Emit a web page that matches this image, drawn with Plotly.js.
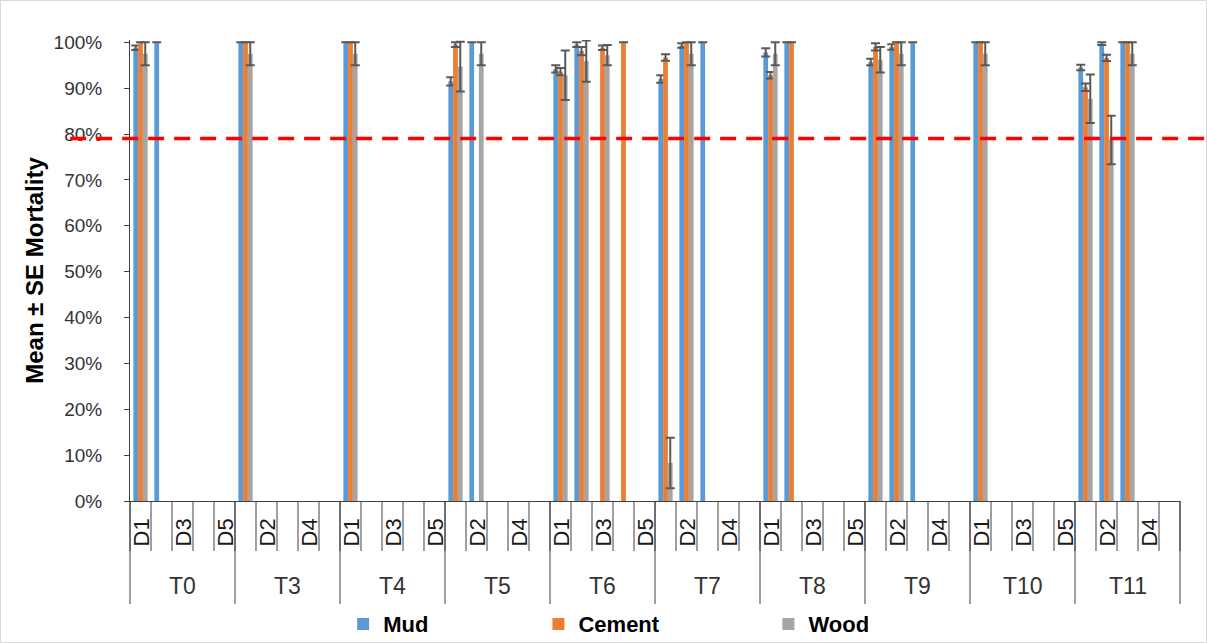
<!DOCTYPE html>
<html>
<head>
<meta charset="utf-8">
<script src="https://cdn.plot.ly/plotly-3.0.1.min.js"></script>
<style>
  html, body { margin: 0; padding: 0; background: #fff; }
  #chart { width: 1205px; height: 641px; border: 1px solid #d9d9d9; }
</style>
</head>
<body>
<div id="chart"></div>
<script>
// ---- Data (percent mortality, mean and standard error) ----
const groups = ['T0', 'T3', 'T4', 'T5', 'T6', 'T7', 'T8', 'T9', 'T10', 'T11'];
const doses = ['D1', 'D2', 'D3', 'D4', 'D5'];

// one row per group, one column per dose (D1..D5); null = no bar
const mudMean = [
  [98.8, 100, null, null, null],
  [100, null, null, null, null],
  [100, null, null, null, null],
  [91.5, 100, null, null, null],
  [94.2, 99.5, null, null, null],
  [92.0, 99.3, 100, null, null],
  [97.8, 100, null, null, null],
  [95.7, 99.0, 100, null, null],
  [100, null, null, null, null],
  [94.5, 99.7, 100, null, null]
];
const mudSE = [
  [0.5, 0, null, null, null],
  [0, null, null, null, null],
  [0, null, null, null, null],
  [0.9, 0, null, null, null],
  [0.8, 0.5, null, null, null],
  [0.8, 0.5, 0, null, null],
  [0.9, 0, null, null, null],
  [0.7, 0.6, 0, null, null],
  [0, null, null, null, null],
  [0.6, 0.3, 0, null, null]
];
const cementMean = [
  [100, null, null, null, null],
  [100, null, null, null, null],
  [100, null, null, null, null],
  [99.5, null, null, null, null],
  [93.6, 98.1, 98.8, 100, null],
  [96.7, 100, null, null, null],
  [92.8, 100, null, null, null],
  [99.0, 100, null, null, null],
  [100, null, null, null, null],
  [90.2, 96.6, 100, null, null]
];
const cementSE = [
  [0, null, null, null, null],
  [0, null, null, null, null],
  [0, null, null, null, null],
  [0.5, null, null, null, null],
  [0.8, 0.9, 0.5, 0, null],
  [0.7, 0, null, null, null],
  [0.7, 0, null, null, null],
  [0.8, 0, null, null, null],
  [0, null, null, null, null],
  [0.8, 0.7, 0, null, null]
];
const woodMean = [
  [97.5, null, null, null, null],
  [97.5, null, null, null, null],
  [97.5, null, null, null, null],
  [94.7, 97.5, null, null, null],
  [92.8, 95.9, 97.2, null, null],
  [8.3, 97.5, null, null, null],
  [97.5, null, null, null, null],
  [96.2, 97.5, null, null, null],
  [97.5, null, null, null, null],
  [87.7, 78.7, 97.5, null, null]
];
const woodSE = [
  [2.5, null, null, null, null],
  [2.5, null, null, null, null],
  [2.5, null, null, null, null],
  [5.4, 2.5, null, null, null],
  [5.4, 4.5, 2.2, null, null],
  [5.5, 2.5, null, null, null],
  [2.5, null, null, null, null],
  [2.8, 2.5, null, null, null],
  [2.5, null, null, null, null],
  [5.3, 5.3, 2.5, null, null]
];
const threshold = 79;      // reference line (%)
const yRange = [0, 100.5]; // value axis range (%)

// ---- Build chart ----
const cats = [];
const catDose = [];
groups.forEach(g => doses.forEach(d => { cats.push(g + ' ' + d); catDose.push(d); }));
const flat = a => a.reduce((acc, r) => acc.concat(r), []);
const nCats = cats.length;

const FONT = 'Liberation Sans, Arial, sans-serif';
const errStyle = { type: 'data', color: '#595959', thickness: 2, width: 4.5, visible: true };

const series = [
  { name: 'Mud', mean: mudMean, se: mudSE, color: '#5B9BD5', legend: 'legend' },
  { name: 'Cement', mean: cementMean, se: cementSE, color: '#ED7D31', legend: 'legend2' },
  { name: 'Wood', mean: woodMean, se: woodSE, color: '#A5A5A5', legend: 'legend3' }
];

const traces = series.map(s => ({
  type: 'bar',
  name: s.name,
  x: cats,
  y: flat(s.mean),
  marker: { color: s.color, line: { width: 0 } },
  error_y: Object.assign({ array: flat(s.se) }, errStyle),
  legend: s.legend,
  showlegend: true,
  hoverinfo: 'none'
}));

const axisColor = '#404040';
const shapes = [];
// category boundary ticks under the axis
for (let k = 0; k <= nCats; k++) {
  shapes.push({
    type: 'line', xref: 'paper', yref: 'paper', ysizemode: 'pixel', yanchor: 0,
    x0: k / nCats, x1: k / nCats, y0: 0, y1: -50,
    line: { color: axisColor, width: 1 }
  });
}
// group dividers
for (let g = 0; g <= groups.length; g++) {
  const xp = (g * doses.length) / nCats;
  shapes.push({
    type: 'line', xref: 'paper', yref: 'paper', ysizemode: 'pixel', yanchor: 0,
    x0: xp, x1: xp, y0: 0, y1: -103,
    line: { color: axisColor, width: 1 }
  });
}
// threshold line (position on the value axis, expressed in the axis domain)
const thrFrac = (threshold - yRange[0]) / (yRange[1] - yRange[0]);
shapes.push({
  type: 'line', xref: 'paper', yref: 'y domain', layer: 'above',
  x0: -0.057, x1: 1.03, y0: thrFrac, y1: thrFrac,
  line: { color: '#FF0000', width: 3.5, dash: '16px,10px' }
});

const annotations = [];
// dose labels (every other category, as in the reference)
cats.forEach((c, i) => {
  if (i % 2 === 0) {
    annotations.push({
      x: c, xref: 'x', y: 0, yref: 'paper', yshift: -32,
      text: catDose[i], textangle: -90, showarrow: false,
      xanchor: 'center', yanchor: 'middle',
      font: { family: FONT, size: 22, color: '#1a1a1a' }
    });
  }
});
// group labels
groups.forEach((g, gi) => {
  annotations.push({
    x: cats[gi * doses.length + Math.floor(doses.length / 2)], xref: 'x',
    y: 0, yref: 'paper', yshift: -85,
    text: g, showarrow: false, xanchor: 'center', yanchor: 'middle',
    font: { family: FONT, size: 23, color: '#333333' }
  });
});

const legendBase = {
  orientation: 'h', yanchor: 'middle', xanchor: 'left', y: -0.267,
  bgcolor: 'rgba(0,0,0,0)',
  font: { family: FONT, size: 22, weight: 'bold', color: '#000' }
};

const layout = {
  width: 1205, height: 641,
  margin: { l: 129, r: 26, t: 39, b: 141, pad: 0, autoexpand: false },
  paper_bgcolor: '#fff', plot_bgcolor: '#fff',
  font: { family: FONT, color: '#404040' },
  showlegend: true,
  barmode: 'group', bargap: 0.32, bargroupgap: 0,
  xaxis: {
    type: 'category', categoryorder: 'array', categoryarray: cats,
    range: [-0.5, nCats - 0.5], showticklabels: false, ticks: '',
    showline: true, linecolor: axisColor, linewidth: 1,
    showgrid: false, zeroline: false, fixedrange: true
  },
  yaxis: {
    range: yRange, tickmode: 'linear', tick0: 0, dtick: 10,
    ticksuffix: '%', ticks: 'outside', ticklen: 5, tickcolor: axisColor, tickwidth: 1,
    showline: true, linecolor: axisColor, linewidth: 1,
    showgrid: false, zeroline: false, ticklabelstandoff: 18,
    tickfont: { family: FONT, size: 19, color: '#333333' },
    title: { text: 'Mean ± SE Mortality', standoff: 3,
             font: { family: FONT, size: 24, weight: 'bold', color: '#000' } },
    fixedrange: true
  },
  legend: Object.assign({}, legendBase, { x: 0.203 }),
  legend2: Object.assign({}, legendBase, { x: 0.389 }),
  legend3: Object.assign({}, legendBase, { x: 0.608 }),
  shapes: shapes,
  annotations: annotations
};

Plotly.newPlot('chart', traces, layout, { displayModeBar: false, staticPlot: true });
</script>
</body>
</html>
